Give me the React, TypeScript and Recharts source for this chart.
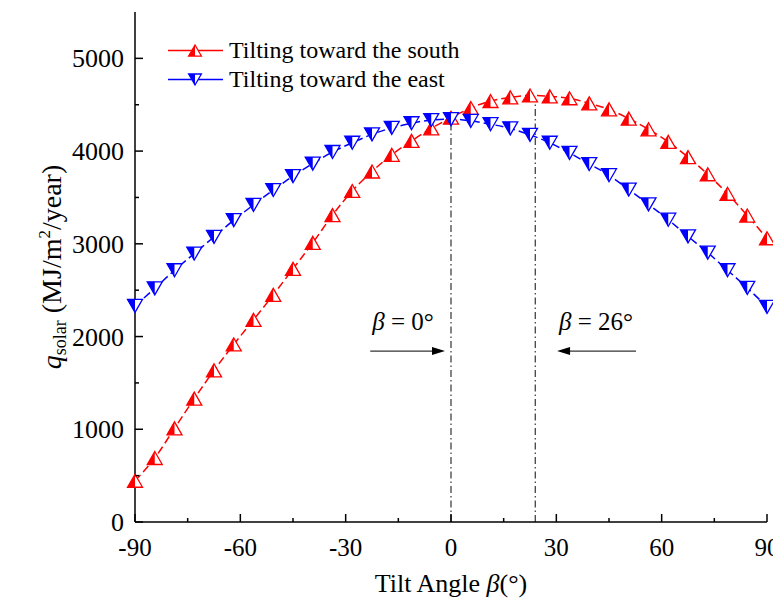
import React from "react";
import { LineChart, Line, XAxis, YAxis, ReferenceLine, Legend } from "recharts";

// tilt angles in degrees (one marker every 5.625°)
const angles = [
  -90, -84.375, -78.75, -73.125, -67.5, -61.875, -56.25, -50.625, -45, -39.375, -33.75,
  -28.125, -22.5, -16.875, -11.25, -5.625, 0, 5.625, 11.25, 16.875, 22.5, 28.125, 33.75,
  39.375, 45, 50.625, 56.25, 61.875, 67.5, 73.125, 78.75, 84.375, 90,
];

// annual solar irradiation, MJ/m2/year
const southValues = [
  445, 690, 1010, 1330, 1635, 1915, 2180, 2450, 2730, 3010, 3310, 3570, 3780, 3960, 4110,
  4245, 4360, 4465, 4540, 4580, 4600, 4590, 4570, 4515, 4450, 4350, 4235, 4100, 3935, 3750,
  3540, 3305, 3060,
];
const eastValues = [
  2330, 2520, 2715, 2895, 3075, 3255, 3420, 3580, 3730, 3865, 3990, 4090, 4180, 4250, 4300,
  4335, 4345, 4325, 4290, 4245, 4175, 4090, 3980, 3860, 3740, 3585, 3425, 3260, 3080, 2905,
  2715, 2525, 2320,
];

const seriesNames = ["Tilting toward the south", "Tilting toward the east"];
const seriesColors = ["#ff0000", "#0000ff"];

const xTicks = [-90, -75, -60, -45, -30, -15, 0, 15, 30, 45, 60, 75, 90];
const yTicks = [0, 500, 1000, 1500, 2000, 2500, 3000, 3500, 4000, 4500, 5000];

// dash-dot guides and the arrows pointing at them
const guideAngles = [0, 24];
const guideTops = [4290, 4550];
const annotationLabels = ["0°", "26°"];
const arrowStarts = [-23, 52.7];
const arrowEnds = [-1.7, 30.2];
const arrowLevel = 1843;

const data = angles.map((x, i) => ({ x, south: southValues[i], east: eastValues[i] }));

const FONT = "'Liberation Serif', 'Times New Roman', serif";
const serif = { fontFamily: FONT };

// half filled triangle, like Origin's default symbols
function Tri({ cx, cy, color, down, s = 1 }: any) {
  const w = 15 * s;
  const h = 13 * s;
  const tipY = down ? cy + h / 2 : cy - h / 2;
  const baseY = down ? cy - h / 2 : cy + h / 2;
  const full = `${cx},${tipY} ${cx - w / 2},${baseY} ${cx + w / 2},${baseY}`;
  const half = `${cx},${tipY} ${cx - w / 2},${baseY} ${cx},${baseY}`;
  return (
    <g>
      <polygon points={full} fill="#fff" stroke="none" />
      <polygon points={half} fill={color} stroke="none" />
      <polygon points={full} fill="none" stroke={color} strokeWidth={1.3} />
    </g>
  );
}

function BottomTick({ x, y, payload }: any) {
  const major = payload.value % 30 === 0;
  return (
    <g>
      <line x1={x} y1={y} x2={x} y2={y - (major ? 8 : 4)} stroke="#000" strokeWidth={1.5} />
      {major && (
        <text x={x} y={y + 34} textAnchor="middle" fontSize={25} style={serif} fill="#000">
          {payload.value}
        </text>
      )}
    </g>
  );
}

function TopTick({ x, y, payload }: any) {
  const major = payload.value % 30 === 0;
  return <line x1={x} y1={y} x2={x} y2={y + (major ? 8 : 4)} stroke="#000" strokeWidth={1.5} />;
}

function LeftTick({ x, y, payload }: any) {
  const major = payload.value % 1000 === 0;
  return (
    <g>
      <line x1={x} y1={y} x2={x + (major ? 8 : 4)} y2={y} stroke="#000" strokeWidth={1.5} />
      {major && (
        <text x={x - 11} y={y + 9} textAnchor="end" fontSize={26} style={serif} fill="#000">
          {payload.value}
        </text>
      )}
    </g>
  );
}

function RightTick({ x, y, payload }: any) {
  const major = payload.value % 1000 === 0;
  return <line x1={x} y1={y} x2={x - (major ? 8 : 4)} y2={y} stroke="#000" strokeWidth={1.5} />;
}

function XTitle({ viewBox }: any) {
  return (
    <text x={viewBox.x + viewBox.width / 2} y={viewBox.y + 70} textAnchor="middle" fontSize={26} style={serif} fill="#000">
      Tilt Angle <tspan fontStyle="italic">β</tspan>(°)
    </text>
  );
}

function YTitle({ viewBox }: any) {
  const cx = viewBox.x + 53;
  const cy = viewBox.y + viewBox.height / 2;
  return (
    <text transform={`translate(${cx},${cy}) rotate(-90)`} textAnchor="middle" fontSize={28} style={serif} fill="#000">
      <tspan fontStyle="italic">q</tspan>
      <tspan fontSize={18} dy={5}>solar</tspan>
      <tspan dy={-5}> (MJ/m</tspan>
      <tspan fontSize={17} dy={-11}>2</tspan>
      <tspan dy={11}>/year)</tspan>
    </text>
  );
}

function arrowShape(label: string) {
  return (p: any) => {
    const { x1, y1, x2, y2 } = p;
    const d = x2 > x1 ? 1 : -1;
    const head = `${x2},${y2} ${x2 - d * 13},${y2 - 4} ${x2 - d * 13},${y2 + 4}`;
    return (
      <g>
        <line x1={x1} y1={y1} x2={x2 - d * 6} y2={y2} stroke="#000" strokeWidth={1} />
        <polygon points={head} fill="#000" />
        <text x={Math.min(x1, x2) + 2} y={y1 - 21} fontSize={25} style={serif} fill="#000">
          <tspan fontStyle="italic">β</tspan>
          <tspan> = {label}</tspan>
        </text>
      </g>
    );
  };
}

function LegendBox() {
  return (
    <div style={{ fontFamily: FONT, fontSize: 24, color: "#000" }}>
      {seriesNames.map((name, i) => (
        <div key={name} style={{ display: "flex", alignItems: "center", height: 29 }}>
          <svg width={61} height={29}>
            <line x1={0} y1={14.5} x2={55} y2={14.5} stroke={seriesColors[i]} strokeWidth={1.5} />
            <Tri cx={27} cy={14.5} color={seriesColors[i]} down={i === 1} s={0.85} />
          </svg>
          <span style={{ whiteSpace: "nowrap", lineHeight: "29px" }}>{name}</span>
        </div>
      ))}
    </div>
  );
}

export default function App() {
  return (
    <LineChart width={773} height={590} data={data} margin={{ top: 4, right: 14, bottom: 16, left: 0 }}>
      <XAxis
        dataKey="x"
        type="number"
        domain={[-90, 90]}
        ticks={xTicks}
        interval={0}
        tickSize={0}
        tickMargin={0}
        tickLine={false}
        tick={<BottomTick />}
        axisLine={{ stroke: "#000", strokeWidth: 1.5 }}
        height={60}
        label={<XTitle />}
      />
      <XAxis
        xAxisId="top"
        orientation="top"
        dataKey="x"
        type="number"
        domain={[-90, 90]}
        ticks={xTicks}
        interval={0}
        tickSize={0}
        tickMargin={0}
        tickLine={false}
        tick={<TopTick />}
        axisLine={{ stroke: "#000", strokeWidth: 1.5 }}
        height={0}
      />
      <YAxis
        type="number"
        domain={[0, 5500]}
        ticks={yTicks}
        interval={0}
        tickSize={0}
        tickMargin={0}
        tickLine={false}
        tick={<LeftTick />}
        axisLine={{ stroke: "#000", strokeWidth: 1.5 }}
        width={127}
        label={<YTitle />}
      />
      <YAxis
        yAxisId="right"
        orientation="right"
        type="number"
        domain={[0, 5500]}
        ticks={yTicks}
        interval={0}
        tickSize={0}
        tickMargin={0}
        tickLine={false}
        tick={<RightTick />}
        axisLine={{ stroke: "#000", strokeWidth: 1.5 }}
        width={0}
      />
      {guideAngles.map((a, i) => (
        <ReferenceLine
          key={`g${i}`}
          segment={[{ x: a, y: 0 }, { x: a, y: guideTops[i] }]}
          stroke="#333"
          strokeWidth={1.2}
          strokeDasharray="7 3 1.5 3"
        />
      ))}
      {annotationLabels.map((lab, i) => (
        <ReferenceLine
          key={`a${i}`}
          segment={[{ x: arrowStarts[i], y: arrowLevel }, { x: arrowEnds[i], y: arrowLevel }]}
          shape={arrowShape(lab)}
        />
      ))}
      <Line
        dataKey="south"
        name={seriesNames[0]}
        type="monotone"
        stroke={seriesColors[0]}
        strokeWidth={1.5}
        strokeDasharray="8 4"
        isAnimationActive={false}
        activeDot={false}
        dot={(p: any) => <Tri key={`s${p.index}`} cx={p.cx} cy={p.cy} color={seriesColors[0]} />}
      />
      <Line
        dataKey="east"
        name={seriesNames[1]}
        type="monotone"
        stroke={seriesColors[1]}
        strokeWidth={1.5}
        strokeDasharray="8 4"
        isAnimationActive={false}
        activeDot={false}
        dot={(p: any) => <Tri key={`e${p.index}`} cx={p.cx} cy={p.cy} color={seriesColors[1]} down />}
      />
      <Legend
        layout="vertical"
        align="center"
        verticalAlign="middle"
        content={<LegendBox />}
        wrapperStyle={{ left: 160, top: 28, width: "auto" }}
      />
    </LineChart>
  );
}
